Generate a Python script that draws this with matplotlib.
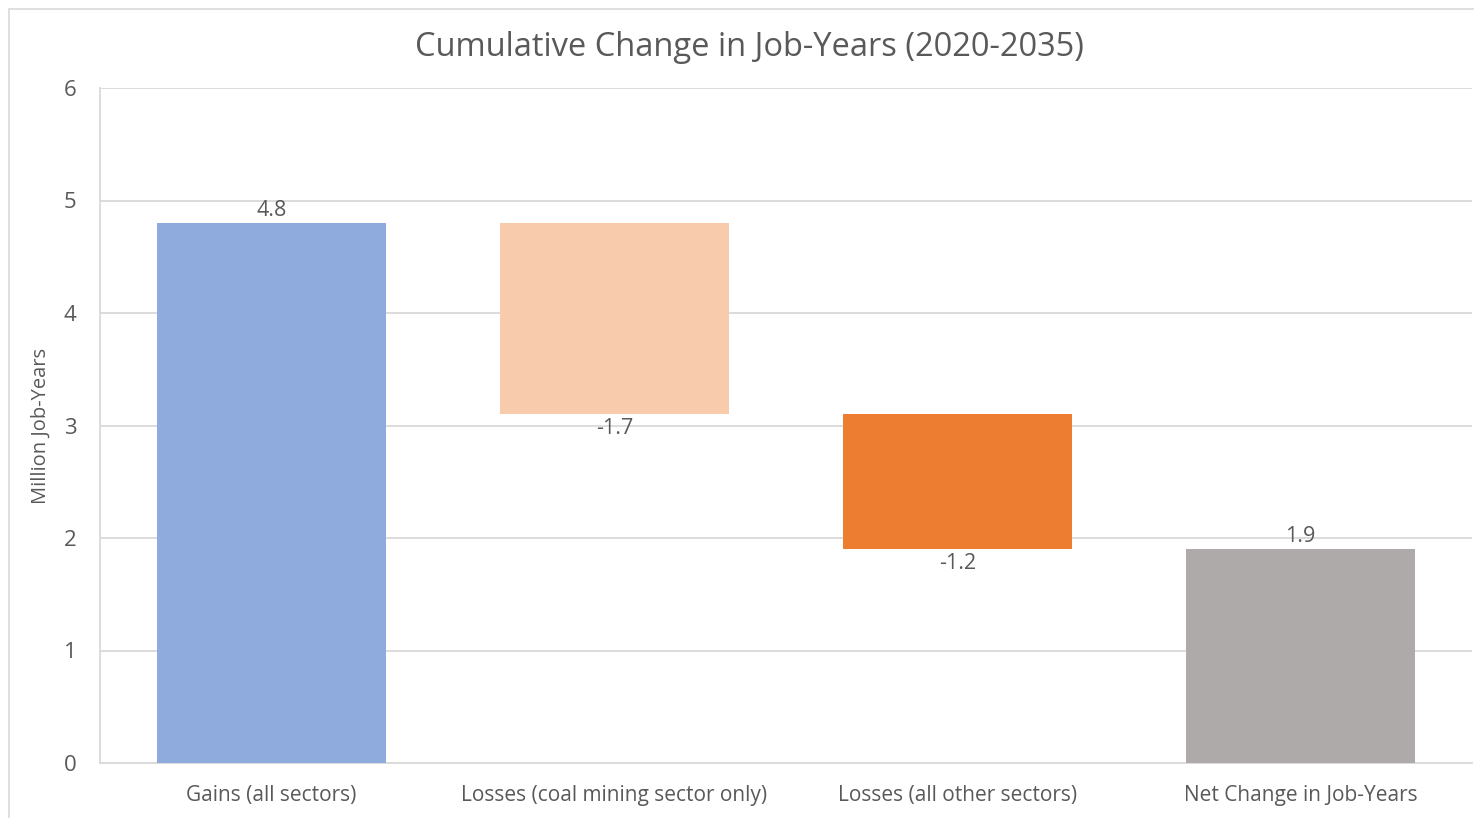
import matplotlib.pyplot as plt
from matplotlib.patches import Rectangle

categories = ['Gains (all sectors)', 'Losses (coal mining sector only)',
              'Losses (all other sectors)', 'Net Change in Job-Years']
changes = [4.8, -1.7, -1.2, 1.9]
is_total = [False, False, False, True]
colors = ['#8FAADC', '#F8CBAD', '#ED7D31', '#AEAAAA']

plt.rcParams['font.family'] = ['Open Sans', 'DejaVu Sans']
txt = '#595959'
grid = '#D9D9D9'

# waterfall: each step starts where the running total left off
bottoms, heights = [], []
running = 0.0
for v, tot in zip(changes, is_total):
    if tot:
        bottoms.append(0.0)
        heights.append(v)
        running = v
    else:
        bottoms.append(running if v >= 0 else running + v)
        heights.append(abs(v))
        running += v

fig = plt.figure(figsize=(14.74, 8.18), dpi=100)
fig.patches.append(Rectangle((9 / 1474, -0.01), 1.1, 1 - 9 / 818 + 0.01,
                             transform=fig.transFigure, fill=False,
                             edgecolor=grid, linewidth=1.2))
ax = fig.add_axes([100 / 1474, 55 / 818, 1372 / 1474, 675 / 818])

x = list(range(len(categories)))
ax.bar(x, heights, bottom=bottoms, width=0.665, color=colors, zorder=3)

for i, v in enumerate(changes):
    if v >= 0:
        ax.text(i, bottoms[i] + heights[i] + 0.02, '%.1f' % v, ha='center',
                va='bottom', fontsize=15.5, color=txt, zorder=4)
    else:
        ax.text(i, bottoms[i] - 0.03, '%.1f' % v, ha='center', va='top',
                fontsize=15.5, color=txt, zorder=4)

ax.set_xlim(-0.5, 3.5)
ax.set_ylim(0, 6)
ax.set_yticks(range(0, 7))
ax.set_xticks(x)
ax.set_xticklabels(categories)
ax.tick_params(axis='both', length=0, colors=txt)
ax.tick_params(axis='x', labelsize=15, pad=16)
ax.tick_params(axis='y', labelsize=16, pad=17)
ax.grid(axis='y', color=grid, linewidth=1.3, zorder=0)
for s in ['top', 'right']:
    ax.spines[s].set_visible(False)
for s in ['left', 'bottom']:
    ax.spines[s].set_color(grid)
    ax.spines[s].set_linewidth(1.3)

ax.set_ylabel('Million Job-Years', fontsize=14.5, color=txt, labelpad=9)
fig.text(749 / 1474, 1 - 47 / 818, 'Cumulative Change in Job-Years (2020-2035)',
         ha='center', va='center', fontsize=23.5, color=txt)

plt.savefig('out.png', dpi=100)
